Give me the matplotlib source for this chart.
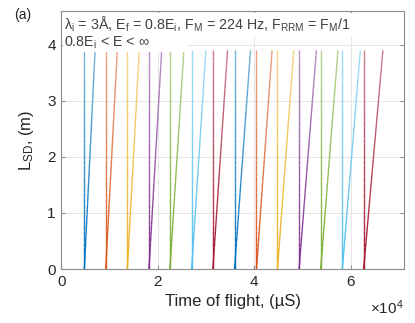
import numpy as np
import matplotlib
matplotlib.use("Agg")
import matplotlib.pyplot as plt
from matplotlib.collections import LineCollection
from matplotlib.colors import to_rgb

plt.rcParams["font.family"] = ["Liberation Sans", "DejaVu Sans"]
plt.rcParams["mathtext.fontset"] = "custom"
plt.rcParams["mathtext.rm"] = "Liberation Sans"
plt.rcParams["mathtext.it"] = "Liberation Sans:italic"

# chopper openings: start time at L=0 (vertical, E -> inf) and arrival of the
# slowest neutrons (E = 0.8 Ei) at the top of the detector
t_open = [4760, 9190, 13670, 18160, 22500, 27000, 31410,
          35900, 40450, 44800, 49280, 53770, 58260, 62670]
t_slow = [6980, 11590, 16150, 20790, 25400, 29960, 34450,
          39210, 43690, 48180, 52880, 57350, 61990, 66670]
L_top = 3.9

matlab_colors = ["#0072BD", "#D95319", "#EDB120", "#7E2F8E",
                 "#77AC30", "#4DBEEE", "#A2142F"]

x_ticks = [0, 20000, 40000, 60000]
x_ticklabels = ["0", "2", "4", "6"]
y_ticks = [0, 1, 2, 3, 4]

line1 = (r"λ$_\mathrm{i}$ = 3Å, E$_\mathrm{f}$ = 0.8E$_\mathrm{i}$, "
         r"F$_\mathrm{M}$ = 224 Hz, F$_\mathrm{RRM}$ = F$_\mathrm{M}$/1")
line2 = r"0.8E$_\mathrm{i}$ < E < ∞"

fig = plt.figure(figsize=(4.15, 3.23), dpi=100)
ax = fig.add_axes([0.148, 0.167, 0.825, 0.799])

def gradient_line(x0, x1, color, n=40):
    # colour fades towards white as L increases
    ys = np.linspace(0, L_top, n + 1)
    xs = np.linspace(x0, x1, n + 1)
    pts = np.column_stack([xs, ys]).reshape(-1, 1, 2)
    segs = np.concatenate([pts[:-1], pts[1:]], axis=1)
    c = np.array(to_rgb(color))
    f = np.linspace(0, 0.45, n)[:, None]
    cols = c * (1 - f) + f
    ax.add_collection(LineCollection(segs, colors=cols, linewidths=1.0, zorder=3))

for i, (t0, t1) in enumerate(zip(t_open, t_slow)):
    col = matlab_colors[i % len(matlab_colors)]
    gradient_line(t0, t0, col)
    gradient_line(t0, t1, col)

ax.set_xlim(0, 71000)
ax.set_ylim(0, 4.6)
ax.set_xticks(x_ticks)
ax.set_xticklabels(x_ticklabels)
ax.set_yticks(y_ticks)
ax.grid(True, color="#e6e6e6", linewidth=0.7, zorder=0)
ax.set_axisbelow(True)

for sp in ax.spines.values():
    sp.set_color("#8c8c8c")
    sp.set_linewidth(0.8)
ax.tick_params(direction="in", length=3, width=0.8, color="#8c8c8c",
               labelsize=11, labelcolor="#262626", top=True, right=True,
               pad=4)

ax.set_xlabel("Time of flight, (µS)", fontsize=12, color="#262626", labelpad=4)
ax.set_ylabel("L$_\\mathrm{SD}$, (m)", fontsize=12, color="#262626", labelpad=8)

ax.text(1.0, -0.115, r"$\times$10$^4$", transform=ax.transAxes,
        ha="right", va="top", fontsize=11, color="#262626")

ax.text(0.008, 0.985, line1, transform=ax.transAxes, ha="left", va="top",
        fontsize=10.3, color="#404040", zorder=5,
        bbox=dict(fc="white", ec="none", pad=1.0))
ax.text(0.008, 0.91, line2 + "          ", transform=ax.transAxes,
        ha="left", va="top", fontsize=10.3, color="#404040", zorder=5,
        bbox=dict(fc="white", ec="none", pad=1.0))

fig.text(0.035, 0.975, "(a)", ha="left", va="top", fontsize=10,
         color="#262626")

fig.savefig("out.png", dpi=100)
